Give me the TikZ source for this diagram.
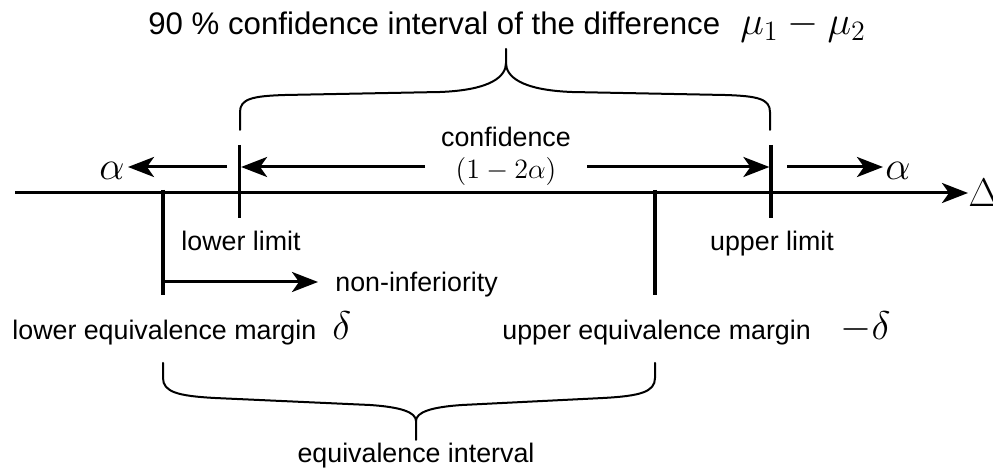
\RequirePackage{fix-cm}
\documentclass[tikz,border=0pt]{standalone}
\usepackage[no-math]{fontspec}
\setmainfont{Liberation Sans}
\usetikzlibrary{arrows.meta}
\begin{document}
\begin{tikzpicture}[x=0.5pt,y=-0.5pt,
  axisline/.style={line width=1.5pt},
  tick/.style={line width=1.6pt},
  arr/.style={line width=1.5pt,-{Stealth[length=13pt,width=10pt,inset=3.5pt]}},
  brace/.style={line width=1pt,line join=round,line cap=round},
  lbl/.style={font=\fontsize{13.4}{16}\selectfont,inner sep=0pt},
  ttl/.style={font=\fontsize{15.6}{18}\selectfont,inner sep=0pt},
  sym/.style={font=\fontsize{20}{24}\selectfont,inner sep=0pt},
  small/.style={font=\fontsize{14}{17}\selectfont,inner sep=0pt},
]
\useasboundingbox (0,0) rectangle (993,470);

% title
\node[ttl,anchor=base west] (title) at (148,35) {90 \% confidence interval of the difference};
\node[sym,anchor=base west] (mu) at (740,35) {$\mu_1-\mu_2$};

% axis
\coordinate (axL) at (15,193);
\node[sym,anchor=west] (Delta) at (968,193) {$\Delta$};
\draw[arr] (axL) -- (Delta.west);

% confidence limits
\coordinate (llT) at (239.5,145); \coordinate (llB) at (239.5,218);
\coordinate (ulT) at (771,145);   \coordinate (ulB) at (771,218);
\draw[tick] (llT) -- (llB);
\draw[tick] (ulT) -- (ulB);
\node[lbl,anchor=base] (lowlim) at (241,251) {lower limit};
\node[lbl,anchor=base] (uplim) at (772,251) {upper limit};

% equivalence margins
\coordinate (lmT) at (163,190); \coordinate (lmB) at (163,295);
\coordinate (umT) at (655,190); \coordinate (umB) at (655,295);
\draw[tick] (lmT) -- (lmB);
\draw[tick] (umT) -- (umB);

% tail probabilities and confidence
\node[sym,anchor=base east] (aL) at (125,180) {$\alpha$};
\node[sym,anchor=base west] (aR) at (885,180) {$\alpha$};
\coordinate (aLs) at (227,167);
\coordinate (aRs) at (787,167);
\draw[arr] (aLs) -- ([xshift=1.5pt]aL.east |- aLs);
\draw[arr] (aRs) -- ([xshift=-1pt]aR.west |- aRs);

\node[lbl,anchor=base] (conf) at (506,147) {confidence};
\node[small,anchor=base] (ci) at (506,179) {$(1-2\alpha)$};
\coordinate (cL) at (425,167);
\coordinate (cR) at (587,167);
\draw[arr,shorten >=0.8pt] (cL) -- (llT |- cL);
\draw[arr,shorten >=0.8pt] (cR) -- (ulT |- cR);

% non-inferiority
\coordinate (niS) at (163,282);
\coordinate (niE) at (318,282);
\draw[arr] (niS) -- (niE);
\node[lbl,anchor=base west] (ni) at (335,292) {non-inferiority};

% margin labels
\node[lbl,anchor=base west] (lem) at (12,340) {lower equivalence margin};
\node[sym,anchor=base west] (ld) at (332,340) {$\delta$};
\node[lbl,anchor=base west] (uem) at (502,340) {upper equivalence margin};
\node[sym,anchor=base west] (ud) at (840,340) {$-\delta$};

% brace over the confidence interval
\coordinate (tbL) at (240,130);
\coordinate (tbR) at (770,130);
\coordinate (tbT) at (506,49);
\draw[brace] (tbL) -- (240,112) .. controls (240,99) and (252,96) .. (285,95)
  -- (440,92) .. controls (492,90) and (506,76) .. (506,63) -- (tbT);
\draw[brace] (tbR) -- (770,112) .. controls (770,99) and (758,96) .. (725,95)
  -- (572,92) .. controls (520,90) and (506,76) .. (506,63);

% brace under the equivalence interval
\coordinate (bbL) at (163,363);
\coordinate (bbR) at (655,363);
\coordinate (bbB) at (416,440);
\draw[brace] (bbL) -- (163,378) .. controls (163,392) and (178,396) .. (215,398)
  -- (370,405) .. controls (400,407) and (416,412) .. (416,421) -- (bbB);
\draw[brace] (bbR) -- (655,378) .. controls (655,392) and (640,396) .. (603,398)
  -- (462,405) .. controls (432,407) and (416,412) .. (416,421);
\node[lbl,anchor=base] (ei) at (416,463) {equivalence interval};
\end{tikzpicture}
\end{document}
